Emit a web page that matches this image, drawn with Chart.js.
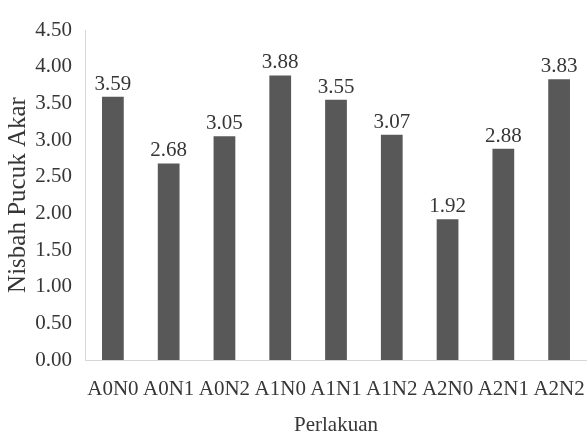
<!DOCTYPE html>
<html>
<head>
<meta charset="utf-8">
<script src="https://cdn.jsdelivr.net/npm/chart.js@4.4.0/dist/chart.umd.min.js"></script>
<style>
  html, body { margin: 0; padding: 0; background: #fff; }
  #wrap { width: 587px; height: 436px; }
</style>
</head>
<body>
<div id="wrap"><canvas id="chart"></canvas></div>
<script>
const categories = ['A0N0', 'A0N1', 'A0N2', 'A1N0', 'A1N1', 'A1N2', 'A2N0', 'A2N1', 'A2N2'];
const values = [3.59, 2.68, 3.05, 3.88, 3.55, 3.07, 1.92, 2.88, 3.83];
const yTicks = [0, 0.5, 1, 1.5, 2, 2.5, 3, 3.5, 4, 4.5];

const serif = "'Liberation Serif', 'Times New Roman', serif";
const textColor = '#363636';

// draw the value above each bar
const barValues = {
    id: 'barValues',
    afterDatasetsDraw(chart) {
        const ctx = chart.ctx;
        ctx.save();
        ctx.font = '21px ' + serif;
        ctx.fillStyle = textColor;
        ctx.textAlign = 'center';
        ctx.textBaseline = 'alphabetic';
        chart.getDatasetMeta(0).data.forEach((bar, i) => {
            ctx.fillText(values[i].toFixed(2), bar.x, bar.y - 7);
        });
        ctx.restore();
    }
};

new Chart(document.querySelector('#chart').getContext('2d'), {
    type: 'bar',
    data: {
        labels: categories,
        datasets: [{
            data: values,
            backgroundColor: '#585858',
            categoryPercentage: 1,
            barPercentage: 0.39
        }]
    },
    options: {
        responsive: true,
        maintainAspectRatio: false,
        animation: false,
        layout: { padding: { top: 30, right: 0, left: 0, bottom: 0 } },
        plugins: {
            legend: { display: false },
            tooltip: { enabled: false }
        },
        scales: {
            x: {
                grid: { display: false, drawTicks: false },
                border: { display: true, color: '#d6d6d6', width: 1 },
                ticks: { color: textColor, font: { family: serif, size: 21 }, padding: 17, maxRotation: 0, autoSkip: false },
                title: { display: true, text: 'Perlakuan', color: textColor, font: { family: serif, size: 21, lineHeight: 1 }, padding: { top: 0, bottom: 0 } },
                afterFit(scale) {
                    scale.height = 76;
                    scale.paddingLeft = 0;
                    scale.paddingRight = 0;
                }
            },
            y: {
                min: 0,
                max: 4.5,
                afterBuildTicks(scale) { scale.ticks = yTicks.map(v => ({ value: v })); },
                grid: { display: false, drawTicks: false },
                border: { display: true, color: '#d6d6d6', width: 1 },
                ticks: {
                    color: textColor,
                    font: { family: serif, size: 21 },
                    padding: 13,
                    callback: v => v.toFixed(2)
                },
                title: { display: true, text: 'Nisbah Pucuk Akar', color: textColor, font: { family: serif, size: 25, lineHeight: 1 }, padding: { top: 6, bottom: 0 } },
                afterFit(scale) {
                    scale.width = 85;
                    scale.paddingTop = 0;
                    scale.paddingBottom = 0;
                }
            }
        }
    },
    plugins: [barValues]
});
</script>
</body>
</html>
